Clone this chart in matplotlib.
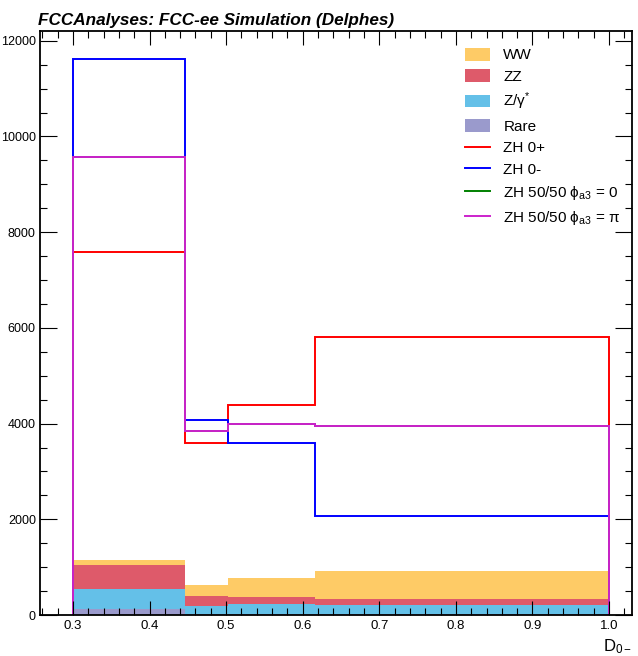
import numpy as np
import matplotlib
matplotlib.use("Agg")
import matplotlib.pyplot as plt
from matplotlib.ticker import MultipleLocator
from matplotlib.patches import Patch
from matplotlib.lines import Line2D

plt.rcParams['font.family'] = ['Liberation Sans', 'DejaVu Sans']
plt.rcParams['mathtext.fontset'] = 'custom'
plt.rcParams['mathtext.rm'] = 'Liberation Sans'
plt.rcParams['mathtext.it'] = 'Liberation Sans:italic'

# bin edges of the D_0- discriminant
edges = [0.3, 0.446, 0.502, 0.616, 1.0]

# stacked backgrounds (bottom to top)
rare = [120, 20, 15, 15]
zgamma = [420, 160, 205, 200]
zz = [500, 210, 150, 115]
ww = [104, 230, 400, 580]

bkg_names = ['Rare', 'Z/γ$^{*}$', 'ZZ', 'WW']
bkg_colors = ['#9a9acc', '#64c0e8', '#de5a6a', '#fecb66']

# signal hypotheses
zh_0p = [7580, 3600, 4390, 5800]
zh_0m = [11620, 4080, 3590, 2065]
zh_mix0 = [9580, 3835, 3990, 3945]
zh_mixpi = [9580, 3835, 3990, 3945]

sig_names = ['ZH 0+', 'ZH 0-', 'ZH 50/50 ϕ$_{\\rm a3}$ = 0', 'ZH 50/50 ϕ$_{\\rm a3}$ = π']
sig_colors = ['#ff0000', '#0000ff', '#008000', '#cc22cc']

fig = plt.figure(figsize=(6.38, 6.56), dpi=100)
ax = fig.add_axes([0.0627, 0.0625, 0.928, 0.890])

bottom = np.zeros(len(rare))
for vals, name, col in zip([rare, zgamma, zz, ww], bkg_names, bkg_colors):
    top = bottom + np.array(vals)
    ax.stairs(top, edges, baseline=bottom, fill=True, color=col, lw=0)
    bottom = top

for vals, name, col in zip([zh_0p, zh_0m, zh_mix0, zh_mixpi], sig_names, sig_colors):
    ax.stairs(vals, edges, baseline=0, color=col, lw=1.4)

leg_handles = [Patch(color=c, lw=0) for c in bkg_colors[::-1]]
leg_handles += [Line2D([], [], color=c, lw=1.4) for c in sig_colors]
leg_labels = bkg_names[::-1] + sig_names
ax.legend(leg_handles, leg_labels, loc='upper left', bbox_to_anchor=(0.695, 0.995),
          frameon=False, fontsize=11, handlelength=1.65, handleheight=0.9,
          labelspacing=0.45, handletextpad=0.85)

ax.set_xlim(0.257, 1.03)
ax.set_ylim(0, 12200)
ax.xaxis.set_major_locator(MultipleLocator(0.1))
ax.xaxis.set_minor_locator(MultipleLocator(0.02))
ax.yaxis.set_major_locator(MultipleLocator(2000))
ax.yaxis.set_minor_locator(MultipleLocator(500))
ax.tick_params(which='both', direction='in', top=True, right=True, labelsize=9.5)
ax.tick_params(which='major', length=10, width=0.8)
ax.tick_params(which='minor', length=5, width=0.8)
ax.tick_params(axis='y', which='major', length=12, pad=3, labelsize=9)
for s in ax.spines.values():
    s.set_linewidth(1.3)

ax.set_xlabel('D$_{0-}$', loc='right', fontsize=12)
ax.text(-0.004, 1.006, 'FCCAnalyses: FCC-ee Simulation (Delphes)', transform=ax.transAxes,
        fontsize=12.3, fontweight='bold', style='italic', va='bottom', ha='left')

fig.savefig('out.png', dpi=100)
